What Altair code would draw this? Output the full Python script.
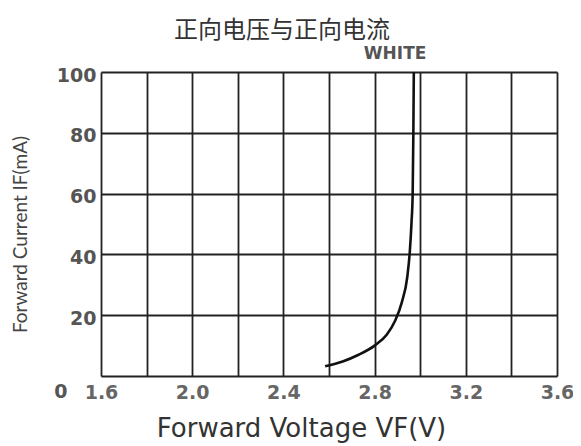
import altair as alt
import pandas as pd

# Curve
vf = [2.583, 2.66, 2.73, 2.80, 2.853, 2.89, 2.92, 2.943, 2.955, 2.962, 2.967, 2.970, 2.972]
if_ma = [3.2, 4.8, 7.0, 10.0, 13.6, 18.2, 24.4, 32.4, 41.5, 50.6, 60.0, 80.0, 100.0]

x_ticks = [1.6, 1.8, 2.0, 2.2, 2.4, 2.6, 2.8, 3.0, 3.2, 3.4, 3.6]
y_ticks = [0, 10, 20, 30, 40, 50, 60, 70, 80, 90, 100]

label_text = ["WHITE"]
label_v = [2.89]
label_i = [100]

title_text = "正向电压与正向电流"
x_title = "Forward Voltage VF(V)"
y_title = "Forward Current IF(mA)"

df = pd.DataFrame({"volt": vf, "cur": if_ma})
lab = pd.DataFrame({"t": label_text, "volt": label_v, "cur": label_i})

xs = alt.Scale(domain=[1.6, 3.6], nice=False, zero=False)
ys = alt.Scale(domain=[0, 100], nice=False)

x_axis = alt.Axis(
    values=x_ticks, format=".1f",
    labelExpr="(round(datum.value*10) % 4 == 0) ? datum.label : ''",
    grid=True, gridColor="#222", gridWidth=1.8, gridOpacity=1,
    ticks=False, domain=False,
    labelFont="DejaVu Sans", labelFontSize=19, labelFontWeight="bold", labelColor="#666",
    labelPadding=7, labelFlush=False,
    title=x_title, titleFont="DejaVu Sans", titleFontSize=26, titleFontWeight="normal",
    titleColor="#333", titleX=200, titleY=60, titleBaseline="alphabetic", titleAnchor="middle",
)
y_axis = alt.Axis(
    values=y_ticks,
    labelExpr="(datum.value % 20 == 0) ? datum.label : ''",
    grid=True, gridColor="#222", gridWidth=1.8, gridOpacity=1,
    ticks=False, domain=False,
    labelFont="DejaVu Sans", labelFontSize=19, labelFontWeight="bold", labelColor="#555",
    labelPadding={"condition": {"test": "datum.value == 0", "value": 34}, "value": 5},
    labelOffset={"condition": {"test": "datum.value == 0", "value": 15}, "value": 3},
    labelFlush=False,
    title=y_title, titleFont="Lato", titleFontSize=19, titleFontWeight="normal",
    titleColor="#444", titleX=-81, titleY=162, titleBaseline="middle", titleAngle=-90,
)

line = alt.Chart(df).mark_line(color="#111", strokeWidth=2.6, interpolate="monotone").encode(
    x=alt.X("volt:Q", scale=xs, axis=x_axis),
    y=alt.Y("cur:Q", scale=ys, axis=y_axis),
)

text = alt.Chart(lab).mark_text(
    font="DejaVu Sans", fontSize=17, fontWeight="bold", color="#555",
    baseline="bottom", dy=-9,
).encode(x=alt.X("volt:Q", scale=xs), y=alt.Y("cur:Q", scale=ys), text="t:N")

chart = (line + text).properties(
    width=456, height=304,
    autosize=alt.AutoSizeParams(type="none"),
    padding={"left": 93, "top": 64, "right": 16, "bottom": 70},
    title=alt.TitleParams(
        text=title_text, font="Noto Sans CJK SC", fontSize=24, fontWeight="normal",
        color="#333", anchor="middle", dx=-47, offset=2,
    ),
).configure_view(stroke="#222", strokeWidth=2).configure(background="white")

chart.save("out.html", embed_options={"renderer": "svg", "actions": False})
